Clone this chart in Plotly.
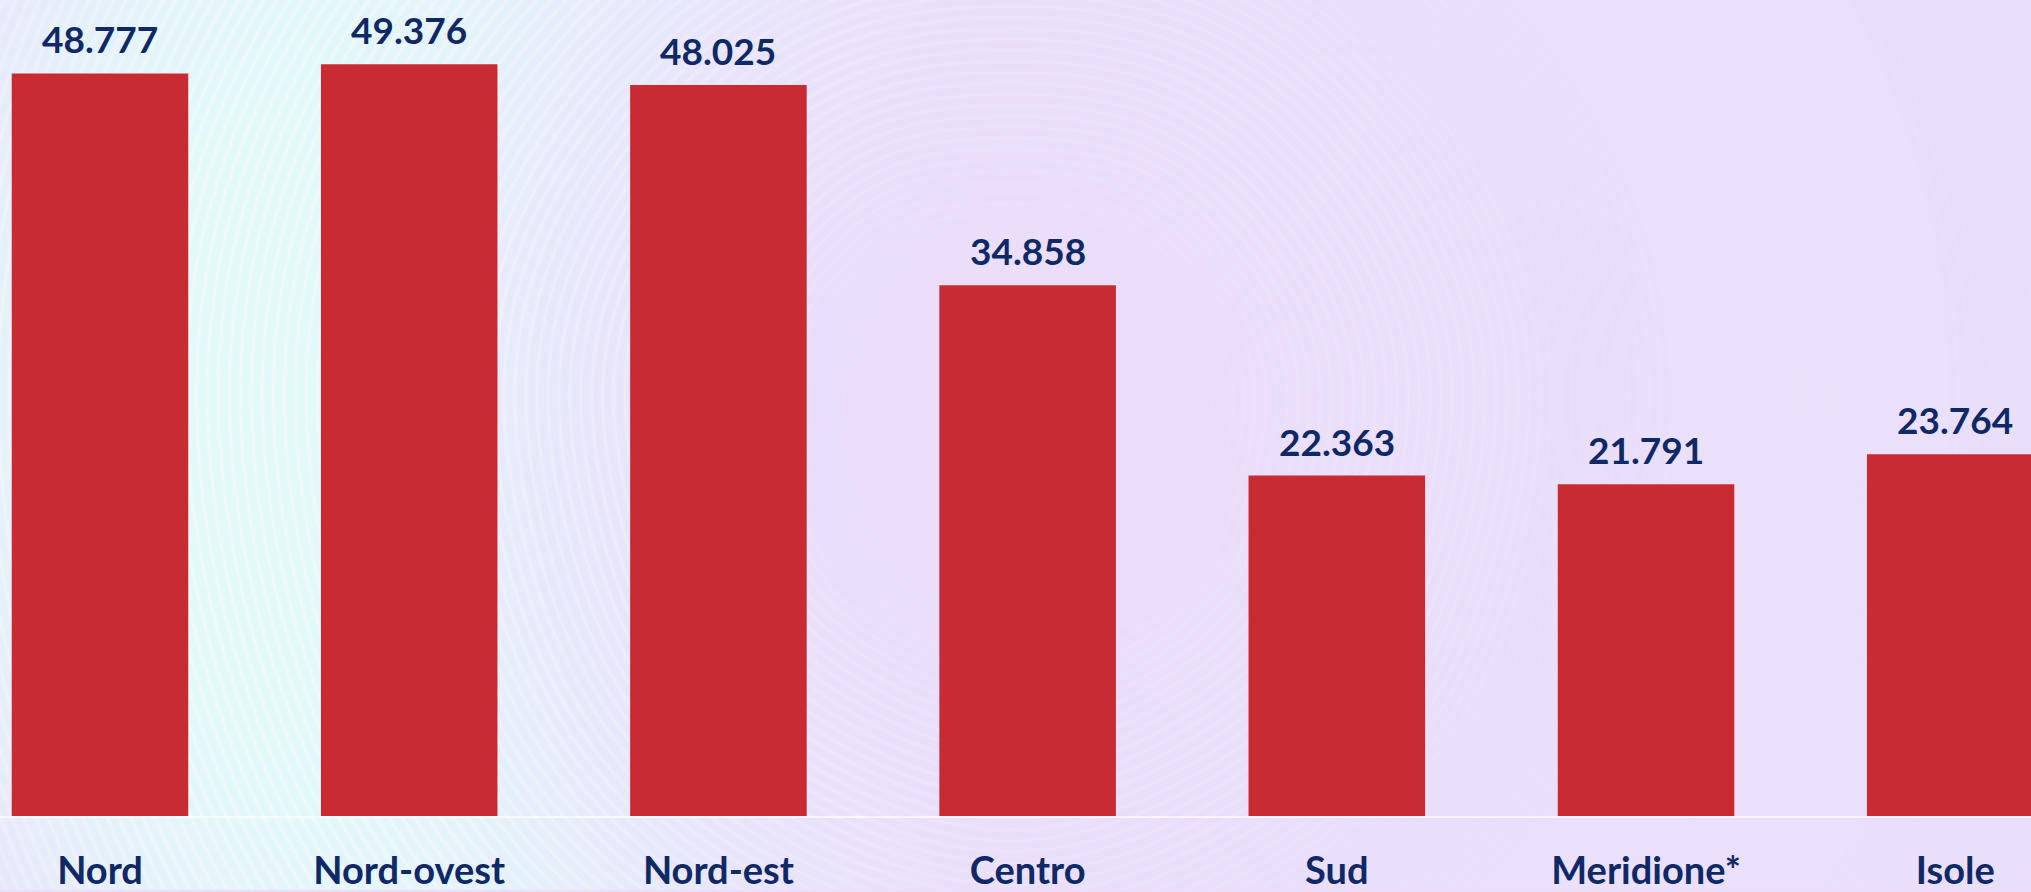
import base64, struct, zlib
import numpy as np
import plotly.graph_objects as go

# ---------------- data ----------------
categories = ["Nord", "Nord-ovest", "Nord-est", "Centro", "Sud", "Meridione*", "Isole"]
values = [48.777, 49.376, 48.025, 34.858, 22.363, 21.791, 23.764]
value_labels = ["48.777", "49.376", "48.025", "34.858", "22.363", "21.791", "23.764"]

# ---------------- background texture (decorative) ----------------
W, H = 1016, 446
sx = 2031 / W
yy, xx = np.mgrid[0:H, 0:W].astype(float)
X = xx * sx
Y = yy * sx
cx, cy = 1010.0, 427.0
dx, dy = X - cx, Y - cy
r = np.hypot(dx, dy)
th = np.arctan2(dy, dx)
ring = np.exp(-((r - 800.0) / 330.0) ** 2)
side = 0.08 + 0.92 * np.clip(-np.cos(th), 0, 1) ** 1.1
streak = (0.5 + 0.5 * np.cos(r * 2 * np.pi / 11.0 + 2.5 * np.sin(3 * th) + 1.7 * np.sin(7 * th))) ** 4
inner = np.exp(-((r - 380.0) / 160.0) ** 2) * 0.35
w = np.clip(ring * side * 1.1, 0, 1)
lav = np.array([235, 222, 252], float)
cyan = np.array([226, 249, 250], float)
img = lav[None, None, :] * (1 - w[..., None]) + cyan[None, None, :] * w[..., None]
white_w = np.clip(streak * (ring * side * 0.7 + inner * 0.5), 0, 1)
img = img * (1 - white_w[..., None]) + 252.0 * white_w[..., None]
img = np.clip(img, 0, 255).astype(np.uint8)

def png_bytes(a):
    h, wdt, _ = a.shape
    raw = b"".join(b"\x00" + a[i].tobytes() for i in range(h))
    def chunk(t, d):
        c = struct.pack(">I", len(d)) + t + d
        return c + struct.pack(">I", zlib.crc32(t + d) & 0xFFFFFFFF)
    return (b"\x89PNG\r\n\x1a\n" + chunk(b"IHDR", struct.pack(">IIBBBBB", wdt, h, 8, 2, 0, 0, 0))
            + chunk(b"IDAT", zlib.compress(raw, 9)) + chunk(b"IEND", b""))

bg_uri = "data:image/png;base64," + base64.b64encode(png_bytes(img)).decode()

# ---------------- figure ----------------
navy = "#0F2866"
fig = go.Figure()
fig.add_trace(go.Bar(
    x=categories, y=values,
    marker=dict(color="#C92B33", line=dict(width=0)),
    hoverinfo="skip", cliponaxis=True,
))

for c, v, t in zip(categories, values, value_labels):
    fig.add_annotation(x=c, y=v, text=f"<b>{t}</b>", showarrow=False,
                       yanchor="bottom", yshift=10,
                       font=dict(family="Lato", size=37, color=navy))

plot_h = 818
fig.update_layout(
    width=2031, height=892,
    margin=dict(l=0, r=0, t=0, b=892 - plot_h),
    paper_bgcolor="#EBDDFB",
    plot_bgcolor="rgba(0,0,0,0)",
    bargap=0.429,
    showlegend=False,
    font=dict(family="Lato", size=38, color=navy),
    images=[dict(source=bg_uri, xref="paper", yref="paper", x=0, y=1,
                 sizex=1, sizey=892 / plot_h, sizing="stretch", layer="below",
                 xanchor="left", yanchor="top")],
    xaxis=dict(range=[-0.3234, 6.245], showgrid=False, zeroline=False,
               showline=True, linecolor="rgba(255,255,255,0.65)", linewidth=2,
               ticks="", ticklabelstandoff=20,
               tickfont=dict(family="Lato", size=38, color=navy, weight="bold")),
    yaxis=dict(range=[0, plot_h / 15.26], showgrid=False, zeroline=False,
               showticklabels=False, showline=False),
)

fig.write_html("out.html", config={"displayModeBar": False},
               post_script="document.body.style.margin='0';document.body.style.overflow='hidden';")
